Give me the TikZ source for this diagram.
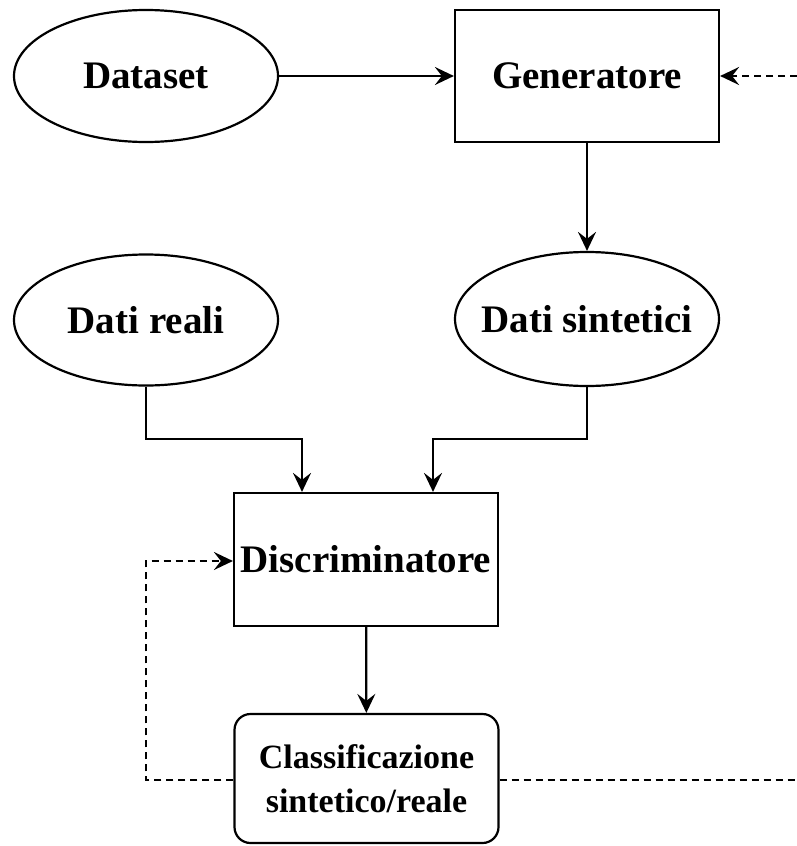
\documentclass[tikz,border=0pt]{standalone}
\usepackage{fontspec}
\setmainfont{Liberation Serif}
\usetikzlibrary{shapes.geometric,arrows.meta}
\tikzset{
  every node/.style={font=\bfseries\fontsize{39}{45}\selectfont, inner sep=0pt, line width=2.2pt},
  oval/.style={draw, ellipse, inner xsep=-30pt, minimum width=264pt, minimum height=132pt},
  box/.style={draw, rectangle, minimum width=264pt, minimum height=132pt},
  rbox/.style={draw, rectangle, rounded corners=16pt, minimum width=264pt, minimum height=129pt, align=center, font=\bfseries\fontsize{34}{44}\selectfont},
  conn/.style={line width=2.2pt, -{Stealth[length=19pt, width=18pt, inset=7pt]}},
  dconn/.style={conn, dash pattern=on 7pt off 5pt},
  dline/.style={line width=2.2pt, dash pattern=on 7pt off 5pt},
}
\begin{document}
\begin{tikzpicture}[x=1pt, y=-1pt]
\useasboundingbox (0,0) rectangle (797,846);
\node[oval] (dataset) at (146,76) {Dataset};
\node[box] (gen) at (587,76) {Generatore};
\node[oval, minimum height=131pt] (reali) at (146,320) {Dati reali};
\node[oval, minimum height=134pt] (sint) at (587,319) {Dati sintetici};
\node[box, minimum height=133pt] (disc) at (366,559.5) {Discriminatore};
\node[rbox] (cls) at (366.5,778.5) {Classificazione\\sintetico/reale};
\coordinate (rtop) at (797,76);
\coordinate (rbot) at (797,780);
\coordinate (lbend1) at (146,780);
\coordinate (lbend2) at (146,561);

\draw[conn] (dataset) -- (gen);
\draw[conn] (gen) -- (sint);
\draw[conn] (reali.south) -- ++(0,52) -| (302,0 |- disc.north);
\draw[conn] (sint.south) -- ++(0,52) -| (433,0 |- disc.north);
\draw[conn] (disc) -- (cls);
\draw[dconn] (cls.west |- lbend1) -- (lbend1) -- (lbend2) -- (disc.west |- lbend2);
\draw[dline] (cls.east |- rbot) -- (rbot);
\draw[dconn] (rtop) -- (gen.east);
\end{tikzpicture}
\end{document}
